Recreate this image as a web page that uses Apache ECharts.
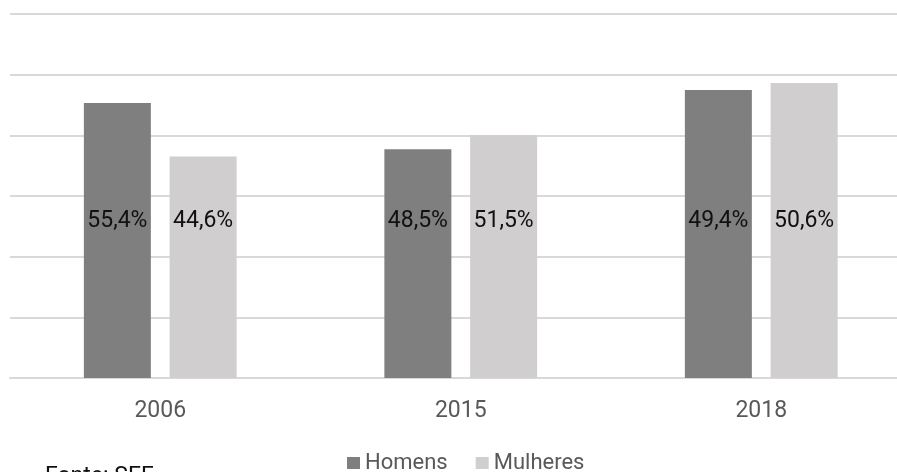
<!DOCTYPE html>
<html>
<head>
<meta charset="utf-8">
<script src="https://cdn.jsdelivr.net/npm/echarts@6/dist/echarts.min.js"></script>
<style>
  html, body { margin: 0; padding: 0; background: #ffffff; overflow: hidden; }
  /* the plot runs slightly past the right edge of the page */
  #chart { width: 912px; height: 472px; }
</style>
</head>
<body>
<div id="chart"></div>
<script>
// Foreign residents by sex (SEF), absolute counts per year
const years = ['2006', '2015', '2018'];
const homens = [226688, 188535, 237268];
const mulheres = [182497, 200196, 243032];
const seriesNames = ['Homens', 'Mulheres'];
const axisMax = 300000;
const axisStep = 50000;

const FONT = 'Roboto, "Noto Sans", sans-serif';

// share of each sex within its year, shown as "55,4%"
function share(values, other, i) {
  const pct = values[i] / (values[i] + other[i]) * 100;
  return pct.toFixed(1).replace('.', ',') + '%';
}

const chart = echarts.init(document.getElementById('chart'), null, { renderer: 'canvas' });

const labelStyle = {
  show: true,
  position: 'insideBottom',
  distance: 145,
  color: '#111111',
  fontFamily: FONT,
  fontSize: 23
};

chart.setOption({
  animation: false,
  backgroundColor: '#ffffff',
  grid: { left: 10, right: 0.5, top: 14, bottom: 94, containLabel: false },
  xAxis: {
    type: 'category',
    data: years,
    axisLine: { lineStyle: { color: '#d9d9d9', width: 2 } },
    axisTick: { show: false },
    axisLabel: { color: '#595959', fontFamily: FONT, fontSize: 23, margin: 22 }
  },
  yAxis: {
    type: 'value',
    min: 0,
    max: axisMax,
    interval: axisStep,
    axisLabel: { show: false },
    axisLine: { show: false },
    axisTick: { show: false },
    splitLine: { lineStyle: { color: '#d9d9d9', width: 2 } }
  },
  legend: {
    data: seriesNames,
    left: 347,
    top: 452,
    padding: 0,
    icon: 'rect',
    itemWidth: 13,
    itemHeight: 12,
    itemGap: 28,
    textStyle: { color: '#595959', fontFamily: FONT, fontSize: 22 }
  },
  graphic: [{
    type: 'text',
    left: 45,
    top: 466,
    style: { text: 'Fonte: SEF', fill: '#111111', font: '23px ' + FONT }
  }],
  series: [
    {
      name: seriesNames[0],
      type: 'bar',
      data: homens,
      barWidth: 67,
      barGap: '28%',
      itemStyle: { color: '#7f7f7f' },
      label: Object.assign({}, labelStyle, {
        formatter: p => share(homens, mulheres, p.dataIndex)
      })
    },
    {
      name: seriesNames[1],
      type: 'bar',
      data: mulheres,
      barWidth: 67,
      itemStyle: { color: '#d0cece' },
      label: Object.assign({}, labelStyle, {
        formatter: p => share(mulheres, homens, p.dataIndex)
      })
    }
  ]
});
</script>
</body>
</html>
